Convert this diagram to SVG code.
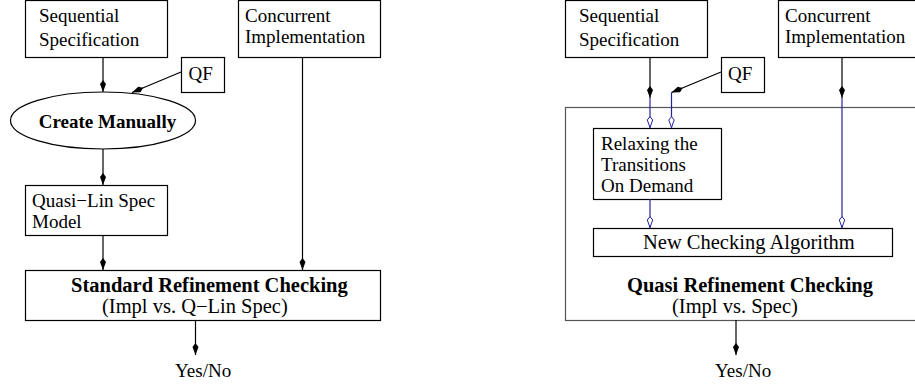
<svg xmlns="http://www.w3.org/2000/svg" width="915" height="388" viewBox="0 0 915 388">
<style>
.box{fill:none;stroke:#000;stroke-width:1.2}
.big{fill:none;stroke:#555;stroke-width:1.2}
.t{font-family:"Liberation Serif","Times New Roman",serif;font-size:19px;fill:#000}
.tl{font-family:"Liberation Serif","Times New Roman",serif;font-size:20.5px;fill:#000}
.b{font-weight:bold}
.k{fill:none;stroke:#000;stroke-width:1.2}
.bl{fill:none;stroke:#22229f;stroke-width:1.2}
</style>
<defs>
<marker id="fd" viewBox="-1 -4 14 8" markerWidth="14" markerHeight="8" refX="12" refY="0" orient="auto" markerUnits="userSpaceOnUse">
<path d="M0,0 L4,-3 L12,0 L4,3 Z" fill="#000"/>
</marker>
<marker id="hd" viewBox="-1 -4 14 8" markerWidth="14" markerHeight="8" refX="12" refY="0" orient="auto" markerUnits="userSpaceOnUse">
<path d="M0.5,0 L4,-2.7 L11.5,0 L4,2.7 Z" fill="#fff" stroke="#22229f" stroke-width="1"/>
</marker>
</defs>

<!-- Left diagram -->
<g id="l-seq">
<rect class="box" x="25.5" y="0.5" width="142" height="57"/>
<text class="t" x="39" y="22">Sequential</text>
<text class="t" x="39" y="46">Specification</text>
</g>
<g id="l-conc">
<rect class="box" x="238.5" y="0.5" width="142" height="57"/>
<text class="t" x="245" y="22">Concurrent</text>
<text class="t" x="245" y="43">Implementation</text>
</g>
<g id="l-qf">
<rect class="box" x="181.5" y="57.5" width="43" height="35"/>
<text class="t" x="188.5" y="79.5">QF</text>
</g>
<g id="l-create">
<ellipse class="box" cx="103" cy="120.5" rx="92.5" ry="28.5"/>
<text class="t b" x="107.5" y="128" text-anchor="middle">Create Manually</text>
</g>
<g id="l-quasi">
<rect class="box" x="25.5" y="185.5" width="142" height="50"/>
<text class="t" x="32" y="207">Quasi−Lin Spec</text>
<text class="t" x="32" y="228">Model</text>
</g>
<g id="l-std">
<rect class="box" x="25.5" y="270.5" width="355" height="50"/>
<text class="tl b" x="71" y="292">Standard Refinement Checking</text>
<text class="tl" x="102" y="313">(Impl vs. Q−Lin Spec)</text>
</g>
<g id="l-yes">
<text class="t" x="175" y="377">Yes/No</text>
</g>

<!-- Right diagram -->
<g id="r-quasi">
<rect class="big" x="565.5" y="107.5" width="360" height="213"/>
<text class="tl b" x="627" y="292">Quasi Refinement Checking</text>
<text class="tl" x="672" y="313">(Impl vs. Spec)</text>
</g>
<g id="r-seq">
<rect class="box" x="565.5" y="0.5" width="142" height="57"/>
<text class="t" x="579" y="22">Sequential</text>
<text class="t" x="579" y="46">Specification</text>
</g>
<g id="r-conc">
<rect class="box" x="778.5" y="0.5" width="150" height="57"/>
<text class="t" x="785" y="22">Concurrent</text>
<text class="t" x="785" y="43">Implementation</text>
</g>
<g id="r-qf">
<rect class="box" x="721.5" y="57.5" width="43" height="35"/>
<text class="t" x="728" y="79.5">QF</text>
</g>
<g id="r-relax">
<rect class="box" x="593.5" y="128.5" width="128" height="71"/>
<text class="t" x="601" y="150">Relaxing the</text>
<text class="t" x="601" y="171">Transitions</text>
<text class="t" x="601" y="192">On Demand</text>
</g>
<g id="r-new">
<rect class="box" x="593.5" y="228.5" width="299" height="28"/>
<text class="tl" x="643" y="249">New Checking Algorithm</text>
</g>
<g id="r-yes">
<text class="t" x="715" y="377">Yes/No</text>
</g>

<g id="connectors">
<line class="k" x1="103" y1="57" x2="103" y2="92" marker-end="url(#fd)"/>
<line class="k" x1="181" y1="72" x2="132" y2="92.5" marker-end="url(#fd)"/>
<line class="k" x1="103" y1="149" x2="103" y2="185" marker-end="url(#fd)"/>
<line class="k" x1="103" y1="235" x2="103" y2="270" marker-end="url(#fd)"/>
<line class="k" x1="302.5" y1="57" x2="302.5" y2="270" marker-end="url(#fd)"/>
<line class="k" x1="195.5" y1="320" x2="195.5" y2="355" marker-end="url(#fd)"/>

<line class="k" x1="650" y1="57" x2="650" y2="98" marker-end="url(#fd)"/>
<line class="bl" x1="650" y1="98" x2="650" y2="128" marker-end="url(#hd)"/>
<line class="k" x1="721" y1="72" x2="671.5" y2="92.5" marker-end="url(#fd)"/>
<line class="bl" x1="671.5" y1="92.5" x2="671.5" y2="128" marker-end="url(#hd)"/>
<line class="k" x1="842" y1="57" x2="842" y2="98" marker-end="url(#fd)"/>
<line class="bl" x1="842" y1="98" x2="842" y2="228" marker-end="url(#hd)"/>
<line class="bl" x1="650" y1="199" x2="650" y2="228" marker-end="url(#hd)"/>
<line class="k" x1="736" y1="320" x2="736" y2="355" marker-end="url(#fd)"/>
</g>
</svg>
